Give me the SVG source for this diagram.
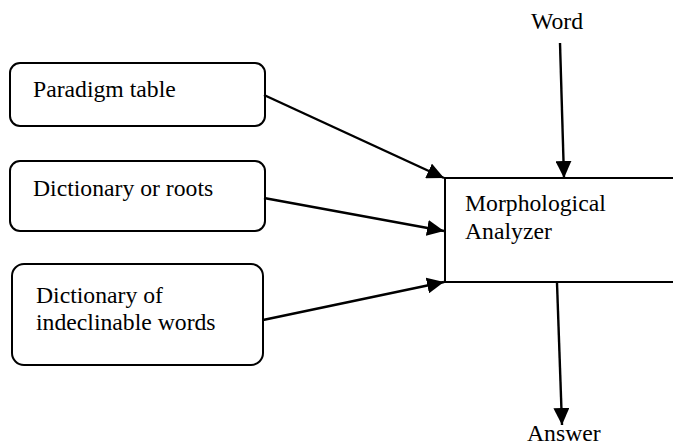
<svg xmlns="http://www.w3.org/2000/svg" width="673" height="447" viewBox="0 0 673 447">
<style>
  .box{fill:#fff;stroke:#000;stroke-width:2}
  .lbl{font-family:'Liberation Serif','Tinos','Times New Roman','DejaVu Serif',serif;font-size:23.7px;fill:#000}
  .arr{stroke:#000;stroke-width:2.4;fill:none;marker-end:url(#ah)}
</style>
<defs>
  <marker id="ah" markerUnits="userSpaceOnUse" markerWidth="18" markerHeight="16" viewBox="0 0 18 16" refX="17" refY="8" orient="auto">
    <path d="M0,0 L17,8 L0,16 Z" fill="#000"/>
  </marker>
</defs>
<rect width="673" height="447" fill="#fff"/>
<g id="paradigm">
  <rect class="box" x="10" y="63" width="255" height="63" rx="10"/>
  <text class="lbl" x="33" y="97">Paradigm table</text>
</g>
<g id="dictroots">
  <rect class="box" x="10" y="161" width="255" height="70" rx="10"/>
  <text class="lbl" x="33" y="196">Dictionary or roots</text>
</g>
<g id="dictindecl">
  <rect class="box" x="12" y="264" width="251" height="101" rx="12"/>
  <text class="lbl" x="36" y="303">Dictionary of</text>
  <text class="lbl" x="36" y="330">indeclinable words</text>
</g>
<g id="analyzer">
  <path d="M680,178 H445 V282 H680" fill="#fff" stroke="#000" stroke-width="2"/>
  <text class="lbl" x="465" y="211">Morphological</text>
  <text class="lbl" x="465" y="239">Analyzer</text>
</g>
<g id="word">
  <text class="lbl" x="531" y="29">Word</text>
</g>
<g id="answer">
  <text class="lbl" x="527" y="441">Answer</text>
</g>
<g id="connectors">
  <line class="arr" x1="264" y1="95" x2="444" y2="178"/>
  <line class="arr" x1="264" y1="198" x2="444" y2="231"/>
  <line class="arr" x1="263" y1="320" x2="444" y2="282"/>
  <line class="arr" x1="560" y1="43" x2="564" y2="178"/>
  <line class="arr" x1="557" y1="283" x2="562" y2="425"/>
</g>
</svg>
